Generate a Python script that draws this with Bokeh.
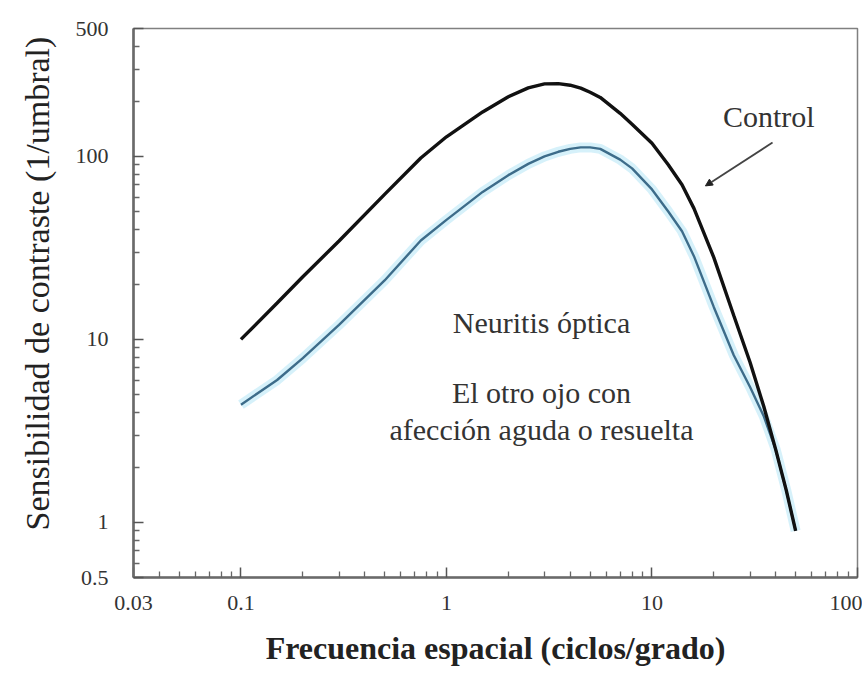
from bokeh.plotting import figure
from bokeh.models import FixedTicker, Label, Arrow, NormalHead, ColumnDataSource, Title
from bokeh.embed import file_html
from bokeh.resources import INLINE

# Spatial frequency (cycles/degree)
freq = [0.1, 0.15, 0.2, 0.3, 0.5, 0.75, 1.0, 1.5, 2.0, 2.5, 3.0, 3.5, 4.0, 4.5, 5.0,
        5.6, 7.0, 8.0, 10.0, 12.0, 14.0, 16.0, 20.0, 25.0, 30.0, 35.0, 40.0, 45.0, 50.0]
# Contrast sensitivity, control eyes
control = [10, 15.8, 22, 34.5, 62, 98, 128, 175, 212, 237, 249, 250, 245, 236, 224,
           210, 172, 150, 118, 90, 70, 52, 28, 13.5, 7.5, 4.3, 2.5, 1.5, 0.9]
# Contrast sensitivity, fellow eye with optic neuritis
neuritis = [4.4, 6.0, 7.9, 12, 21, 34.7, 45, 64, 79, 91, 100, 106, 110, 112, 112,
            110, 96, 86, 66, 50, 39, 28.5, 15, 8.2, 5.5, 3.8, 2.5, 1.5, 0.9]

x_ticks = [0.03, 0.1, 1, 10, 100]
x_tick_labels = {0.03: "0.03", 0.1: "0.1", 1: "1", 10: "10", 100: "100"}
y_ticks = [0.5, 1, 10, 100, 500]
y_tick_labels = {0.5: "0.5", 1: "1", 10: "10", 100: "100", 500: "500"}

x_minor = [0.04, 0.05, 0.06, 0.07, 0.08, 0.09] + \
          [m * d for d in (0.1, 1, 10) for m in range(2, 10)]
y_minor = [0.6, 0.7, 0.8, 0.9] + [m * d for d in (1, 10) for m in range(2, 10)] + \
          [200, 300, 400]

x_title = "Frecuencia espacial (ciclos/grado)"
y_title = "Sensibilidad de contraste (1/umbral)"

# annotation anchors (data units)
control_label = (37, 165)
arrow_start = (38.6, 119)
arrow_end = (18.2, 69)
note_x = 2.9
note_lines = [("Neuritis óptica", 12.4), ("El otro ojo con", 5.1),
              ("afección aguda o resuelta", 3.2)]

FL, FT, FR, FB = 133, 28, 857, 577   # frame edges on the canvas
W, H = 862, 678

p = figure(width=W, height=H, x_axis_type="log", y_axis_type="log",
           x_range=(0.03, 100), y_range=(0.5, 500),
           output_backend="svg", toolbar_location=None,
           min_border_left=FL, min_border_right=W - FR, min_border_top=FT,
           min_border_bottom=H - FB)

p.grid.visible = False
p.outline_line_color = "#808080"
p.outline_line_width = 1.5

src = ColumnDataSource(dict(x=freq, c=control, n=neuritis))
p.line("x", "n", source=src, line_color="#d2f0fa", line_width=10, line_alpha=0.9)
p.line("x", "n", source=src, line_color="#3d6c8a", line_width=2.4)
p.line("x", "c", source=src, line_color="#111111", line_width=3.4)

for ax, ticks, minor, labels in ((p.xaxis, x_ticks, x_minor, x_tick_labels),
                                 (p.yaxis, y_ticks, y_minor, y_tick_labels)):
    ax.ticker = FixedTicker(ticks=ticks, minor_ticks=minor)
    ax.major_label_overrides = labels
    ax.major_tick_in = 10
    ax.major_tick_out = 0
    ax.minor_tick_in = 6
    ax.minor_tick_out = 0
    ax.axis_line_color = "#6a6a6a"
    ax.axis_line_width = 2.6
    ax.major_tick_line_color = "#555555"
    ax.major_tick_line_width = 1.5
    ax.minor_tick_line_color = "#666666"
    ax.minor_tick_line_width = 1.3
    ax.major_label_text_font = "Liberation Serif"
    ax.major_label_text_font_size = "22px"
    ax.major_label_text_color = "#333333"

p.xaxis.major_label_standoff = 18
p.yaxis.major_label_standoff = 25

# x axis title
p.xaxis.axis_label = x_title
p.xaxis.axis_label_text_font = "Liberation Serif"
p.xaxis.axis_label_text_font_size = "32px"
p.xaxis.axis_label_text_font_style = "bold"
p.xaxis.axis_label_text_color = "#222222"
p.xaxis.axis_label_standoff = 17

# y axis title as a side title (placed a little above the frame centre)
p.add_layout(Title(text=y_title, align="left", offset=47, standoff=33,
                   text_font="Liberation Serif", text_font_size="34px",
                   text_font_style="normal", text_color="#222222"), "left")

p.add_layout(Label(x=control_label[0], y=control_label[1], text="Control",
                   text_font="Liberation Serif", text_font_size="30px",
                   text_color="#333333", text_align="center", text_baseline="middle"))
p.add_layout(Arrow(x_start=arrow_start[0], y_start=arrow_start[1],
                   x_end=arrow_end[0], y_end=arrow_end[1],
                   line_color="#444444", line_width=1.8,
                   end=NormalHead(size=7, fill_color="#222222", line_color="#222222")))
for txt, yv in note_lines:
    p.add_layout(Label(x=note_x, y=yv, text=txt, text_font="Liberation Serif",
                       text_font_size="30px", text_color="#333333",
                       text_align="center", text_baseline="middle"))

open("out.html", "w").write(file_html(p, INLINE))
